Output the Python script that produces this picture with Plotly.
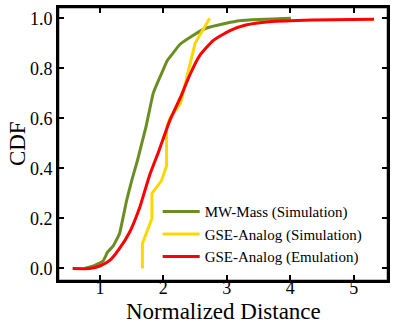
import plotly.graph_objects as go

# MW-Mass (Simulation)
mw_x = [0.76, 0.90, 1.05, 1.12, 1.21, 1.31, 1.42, 1.50, 1.59, 1.66, 1.73, 1.84, 1.92, 1.99, 2.06, 2.15, 2.26,
        2.46, 2.67, 2.99, 3.20, 3.50, 4.01]
mw_y = [0.0, 0.01, 0.03, 0.065, 0.09, 0.14, 0.27, 0.35, 0.43, 0.50, 0.57, 0.70, 0.75, 0.79, 0.83, 0.86, 0.895,
        0.93, 0.96, 0.98, 0.99, 0.995, 1.0]

# GSE-Analog (Simulation)
gse_sim_x = [1.67, 1.67, 1.82, 1.82, 1.97, 2.05, 2.05, 2.10, 2.27, 2.50, 2.73]
gse_sim_y = [0.0, 0.10, 0.20, 0.30, 0.35, 0.41, 0.56, 0.60, 0.66, 0.90, 1.0]

# GSE-Analog (Emulation)
gse_emu_x = [0.57, 0.84, 1.00, 1.16, 1.31, 1.47, 1.63, 1.78, 1.93, 2.10, 2.28, 2.41, 2.57, 2.78, 3.04,
             3.30, 3.67, 4.35, 5.32]
gse_emu_y = [0.0, 0.0, 0.01, 0.033, 0.08, 0.146, 0.246, 0.37, 0.47, 0.59, 0.69, 0.77, 0.85, 0.91, 0.95,
             0.973, 0.986, 0.993, 0.996]

serif = 'Liberation Serif'

fig = go.Figure(data=[
    go.Scatter(name='MW-Mass (Simulation)', x=mw_x, y=mw_y, mode='lines',
               line=dict(color='#6b8e23', width=3, shape='spline', smoothing=0.3)),
    go.Scatter(name='GSE-Analog (Simulation)', x=gse_sim_x, y=gse_sim_y, mode='lines',
               line=dict(color='#ffd700', width=3)),
    go.Scatter(name='GSE-Analog (Emulation)', x=gse_emu_x, y=gse_emu_y, mode='lines',
               line=dict(color='#ff0000', width=3, shape='spline', smoothing=0.5)),
])

fig.update_layout(
    width=396, height=333, margin=dict(l=58, r=8, t=7, b=52),
    plot_bgcolor='white', paper_bgcolor='white',
    font=dict(family=serif, color='black', size=18),
    legend=dict(x=0.302, y=0.171, xanchor='left', yanchor='middle', bgcolor='rgba(0,0,0,0)',
                font=dict(size=15), itemwidth=37),
    annotations=[
        dict(text='Normalized Distance', xref='paper', yref='paper', x=0.5, y=-0.113,
             xanchor='center', yanchor='middle', showarrow=False, font=dict(size=23)),
        dict(text='CDF', xref='paper', yref='paper', x=-0.124, y=0.5, textangle=-90,
             xanchor='center', yanchor='middle', showarrow=False, font=dict(size=23)),
    ],
    shapes=[dict(type='rect', xref='paper', yref='paper', x0=0, x1=1, y0=0, y1=1,
                 line=dict(color='black', width=2.5), layer='above')],
)
axis_style = dict(showline=True, linecolor='black', linewidth=2, mirror='allticks', ticks='inside',
                  ticklen=6, tickwidth=1.5, tickcolor='black', showgrid=False, zeroline=False,
                  automargin=False)
fig.update_xaxes(range=[0.34, 5.54], tickvals=[1, 2, 3, 4, 5], ticklabelstandoff=-11, **axis_style)
fig.update_yaxes(range=[-0.05, 1.045], tickvals=[0, 0.2, 0.4, 0.6, 0.8, 1.0], tickformat='.1f',
                 ticklabelstandoff=0, **axis_style)

fig.write_html("out.html", config={'displayModeBar': False},
               post_script="document.body.style.margin='0';document.body.style.overflow='hidden';")
